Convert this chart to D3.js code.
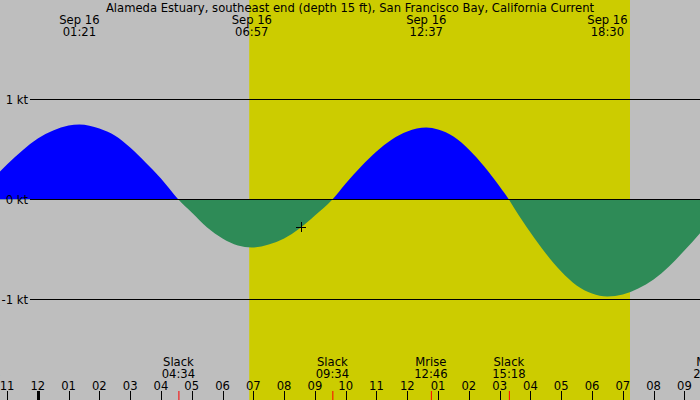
<!DOCTYPE html>
<html>
<head>
<meta charset="utf-8">
<script src="https://cdn.jsdelivr.net/npm/d3@7"></script>
<style>
  body { margin: 0; background: #bebebe; }
  text { font-family: 'DejaVu Sans', sans-serif; font-size: 11.6px; fill: #000; }
</style>
</head>
<body>
<div class="canvas"></div>
<script>
// tidal current, hours after midnight Sep 16 and knots (flood +, ebb -)
const flowHours = [-1.5, -1, -0.5, 0, 0.5, 1, 1.35, 2, 2.5, 3, 3.5, 4, 4.57,
    5, 5.5, 6, 6.5, 6.95, 7.5, 8, 8.5, 9, 9.57,
    10, 10.5, 11, 11.5, 12, 12.62, 13, 13.5, 14, 14.5, 15, 15.3,
    15.5, 16, 16.5, 17, 17.5, 18, 18.5, 19, 19.5, 20, 20.5, 21, 21.5, 22];
const flowKnots = [0.19, 0.35, 0.49, 0.61, 0.69, 0.74, 0.75, 0.71, 0.64, 0.52, 0.37, 0.21, 0,
    -0.13, -0.28, -0.39, -0.46, -0.48, -0.45, -0.39, -0.29, -0.16, 0,
    0.16, 0.33, 0.48, 0.60, 0.68, 0.72, 0.70, 0.63, 0.50, 0.33, 0.13, 0,
    -0.10, -0.33, -0.54, -0.72, -0.86, -0.94, -0.97, -0.95, -0.89, -0.80, -0.67, -0.51, -0.34, -0.15];

const title = 'Alameda Estuary, southeast end (depth 15 ft), San Francisco Bay, California Current';
const peakTimes = ['01:21', '06:57', '12:37', '18:30'];
const peakDate = 'Sep 16';
const eventNames = ['Mset', 'Slack', 'Slack', 'Mrise', 'Slack', 'Mset'];
const eventTimes = ['-01:46', '04:34', '09:34', '12:46', '15:18', '21:50'];
const sunrise = '06:52';
const sunset = '19:14';
const knotTicks = [1, 0, -1];
const nowTime = '08:33';

const width = 700, height = 400;
const day = new Date(2024, 8, 16);

const parseT = (s) => {
    const neg = s[0] === '-';
    const [h, m] = s.replace('-', '').split(':').map(Number);
    return d3.timeMinute.offset(day, (neg ? -1 : 1) * (h * 60 + m));
};
const fromHours = (h) => d3.timeMinute.offset(day, Math.round(h * 60));

const svg = d3.select('.canvas')
    .append('svg')
        .attr('width', width)
        .attr('height', height)
        .style('display', 'block');

const x = d3.scaleTime()
    .domain([day, d3.timeHour.offset(day, 24)])
    .range([37.8, 37.8 + 24 * 30.79]);

const y = d3.scaleLinear()
    .domain([-1, 1])
    .range([299.5, 99.5]);

// background + daylight
svg.append('rect')
    .attr('width', width).attr('height', height)
    .attr('fill', '#bebebe');

svg.append('rect')
    .attr('x', x(parseT(sunrise)))
    .attr('width', x(parseT(sunset)) - x(parseT(sunrise)))
    .attr('y', 0).attr('height', height)
    .attr('fill', '#cccc00');

const flow = flowHours.map((h, i) => ({t: fromHours(h), v: flowKnots[i]}));

const area = d3.area()
    .x(d => x(d.t))
    .y0(y(0))
    .y1(d => y(d.v))
    .curve(d3.curveMonotoneX);

const defs = svg.append('defs');
defs.append('clipPath').attr('id', 'above')
    .append('rect').attr('x', 0).attr('y', 0).attr('width', width).attr('height', y(0));
defs.append('clipPath').attr('id', 'below')
    .append('rect').attr('x', 0).attr('y', y(0)).attr('width', width).attr('height', height - y(0));

svg.append('path')
    .datum(flow)
    .attr('d', area)
    .attr('fill', '#0000ff')
    .attr('clip-path', 'url(#above)');

svg.append('path')
    .datum(flow)
    .attr('d', area)
    .attr('fill', '#2e8b57')
    .attr('clip-path', 'url(#below)');

// knot lines
const kt = svg.append('g');
kt.selectAll('line')
    .data(knotTicks)
    .enter()
    .append('line')
        .attr('x1', 30).attr('x2', width)
        .attr('y1', d => y(d)).attr('y2', d => y(d))
        .attr('stroke', '#000');
kt.selectAll('text')
    .data(knotTicks)
    .enter()
    .append('text')
        .attr('x', 28)
        .attr('y', d => y(d) + 4)
        .attr('text-anchor', 'end')
        .text(d => d + ' kt');

// current time marker
const nx = x(parseT(nowTime));
const bis = d3.bisector(d => d.t).left;
const ny = (() => {
    const t = parseT(nowTime), i = bis(flow, t);
    const a = flow[i - 1], b = flow[i];
    const f = (t - a.t) / (b.t - a.t);
    return y(a.v + f * (b.v - a.v));
})();
svg.append('path')
    .attr('d', `M${nx - 5},${ny}H${nx + 5}M${nx},${ny - 5}V${ny + 5}`)
    .attr('stroke', '#000')
    .attr('shape-rendering', 'crispEdges');

// title and header
svg.append('text')
    .attr('x', 350).attr('y', 12)
    .attr('text-anchor', 'middle')
    .text(title);

const head = svg.append('g').selectAll('g')
    .data(peakTimes)
    .enter()
    .append('g')
        .attr('transform', d => `translate(${x(parseT(d))},0)`);
head.append('text').attr('y', 24).attr('text-anchor', 'middle').text(peakDate);
head.append('text').attr('y', 36).attr('text-anchor', 'middle').text(d => d);

// hour axis
const hours = d3.timeHour.range(d3.timeHour.offset(day, -1), d3.timeHour.offset(day, 23));
const axis = svg.append('g');
axis.selectAll('line')
    .data(hours)
    .enter()
    .append('line')
        .attr('x1', d => Math.round(x(d)) + 0.5).attr('x2', d => Math.round(x(d)) + 0.5)
        .attr('y1', 391).attr('y2', height)
        .attr('stroke', '#000')
        .attr('stroke-width', d => d.getHours() === 0 ? 3 : 1);
axis.selectAll('text')
    .data(hours)
    .enter()
    .append('text')
        .attr('x', d => x(d))
        .attr('y', 390)
        .attr('text-anchor', 'middle')
        .text(d3.timeFormat('%I'));

// events
const ev = svg.append('g').selectAll('g')
    .data(eventNames.map((n, i) => ({name: n, time: eventTimes[i]})))
    .enter()
    .append('g')
        .attr('transform', d => `translate(${x(parseT(d.time))},0)`);
ev.append('line')
    .attr('x1', 0.5).attr('x2', 0.5)
    .attr('y1', 391).attr('y2', height)
    .attr('stroke', '#ff0000');
ev.append('text').attr('y', 366).attr('text-anchor', 'middle').text(d => d.name);
ev.append('text').attr('y', 378).attr('text-anchor', 'middle')
    .text(d => d3.timeFormat('%H:%M')(parseT(d.time)));
</script>
</body>
</html>
